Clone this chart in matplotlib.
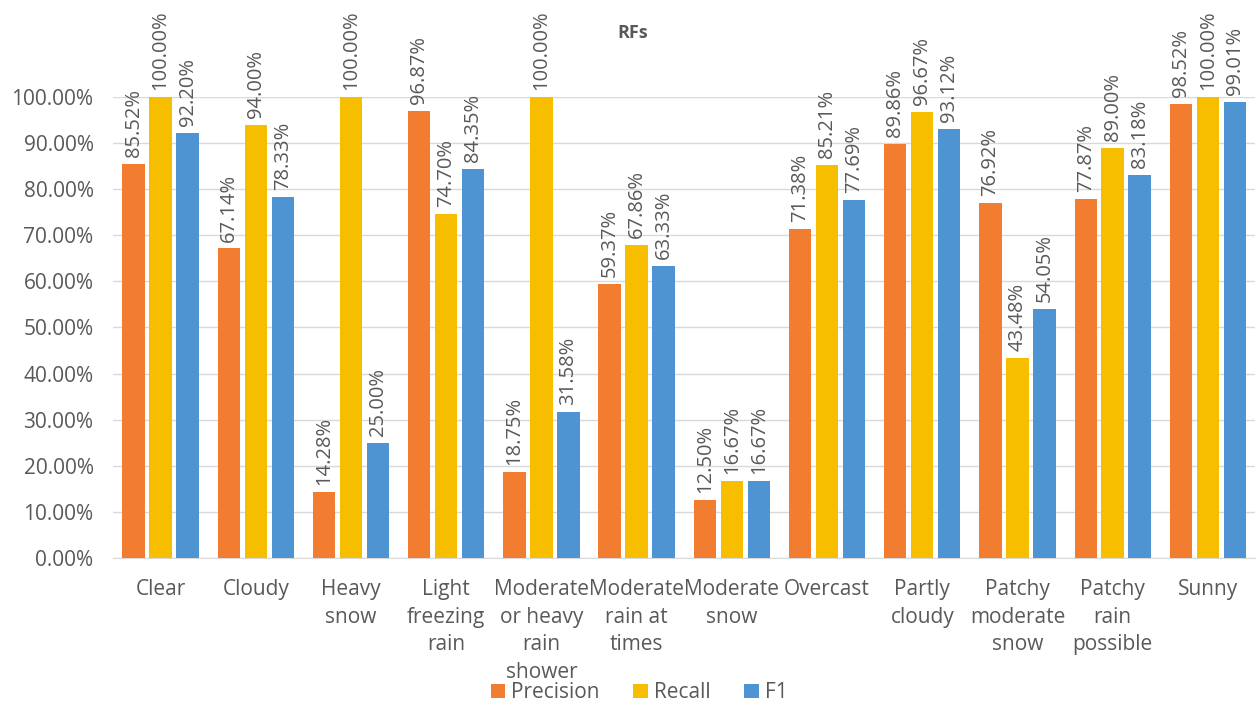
import matplotlib.pyplot as plt
import numpy as np

categories = ["Clear", "Cloudy", "Heavy\nsnow", "Light\nfreezing\nrain",
              "Moderate\nor heavy\nrain\nshower", "Moderate\nrain at\ntimes",
              "Moderate\nsnow", "Overcast", "Partly\ncloudy", "Patchy\nmoderate\nsnow",
              "Patchy\nrain\npossible", "Sunny"]
precision = [85.52, 67.14, 14.28, 96.87, 18.75, 59.37, 12.50, 71.38, 89.86, 76.92, 77.87, 98.52]
recall = [100.00, 94.00, 100.00, 74.70, 100.00, 67.86, 16.67, 85.21, 96.67, 43.48, 89.00, 100.00]
f1 = [92.20, 78.33, 25.00, 84.35, 31.58, 63.33, 16.67, 77.69, 93.12, 54.05, 83.18, 99.01]

plt.rcParams['font.family'] = ['Open Sans', 'DejaVu Sans']
gris = '#595959'

fig = plt.figure(figsize=(12.58, 7.07), dpi=100)
ax = fig.add_axes([0.0898, 0.2108, 0.9082, 0.652])

x = np.arange(len(categories))
series = [(precision, '#F27D30', 'Precision'), (recall, '#F7BE00', 'Recall'), (f1, '#4E94D3', 'F1')]
offset = 0.283
width = 0.235
for i, (vals, color, nom) in enumerate(series):
    pos = x + (i - 1) * offset
    ax.bar(pos, vals, width, color=color, label=nom, zorder=3)
    for p, v in zip(pos, vals):
        ax.annotate(f"{v:.2f}%", (p, v), xytext=(0, 5), textcoords='offset points',
                    rotation=90, ha='center', va='bottom', fontsize=14.5,
                    color=gris, annotation_clip=False)

ax.set_xlim(-0.5, len(categories) - 0.5)
ax.set_ylim(0, 100)
ax.set_yticks(np.arange(0, 101, 10))
ax.set_yticklabels([f"{t:.2f}%" for t in range(0, 101, 10)])
ax.set_xticks(x)
ax.set_xticklabels(categories, linespacing=1.42, va='top')
ax.tick_params(axis='both', length=0, labelsize=15, colors=gris)
ax.tick_params(axis='x', pad=15)
ax.tick_params(axis='y', pad=14)
ax.grid(axis='y', color='#D9D9D9', linewidth=1, zorder=0)
for s in ['top', 'right', 'left']:
    ax.spines[s].set_visible(False)
ax.spines['bottom'].set_color('#D9D9D9')

fig.text(0.503, 0.953, "RFs", ha='center', va='center', fontsize=13,
         fontweight='bold', color=gris)

fig.legend(loc='center', bbox_to_anchor=(0.508, 0.02), ncol=3, frameon=False,
           fontsize=15, labelcolor=gris, handlelength=0.7, handleheight=0.7,
           handletextpad=0.3, columnspacing=1.6)

fig.savefig('out.png', dpi=100)
